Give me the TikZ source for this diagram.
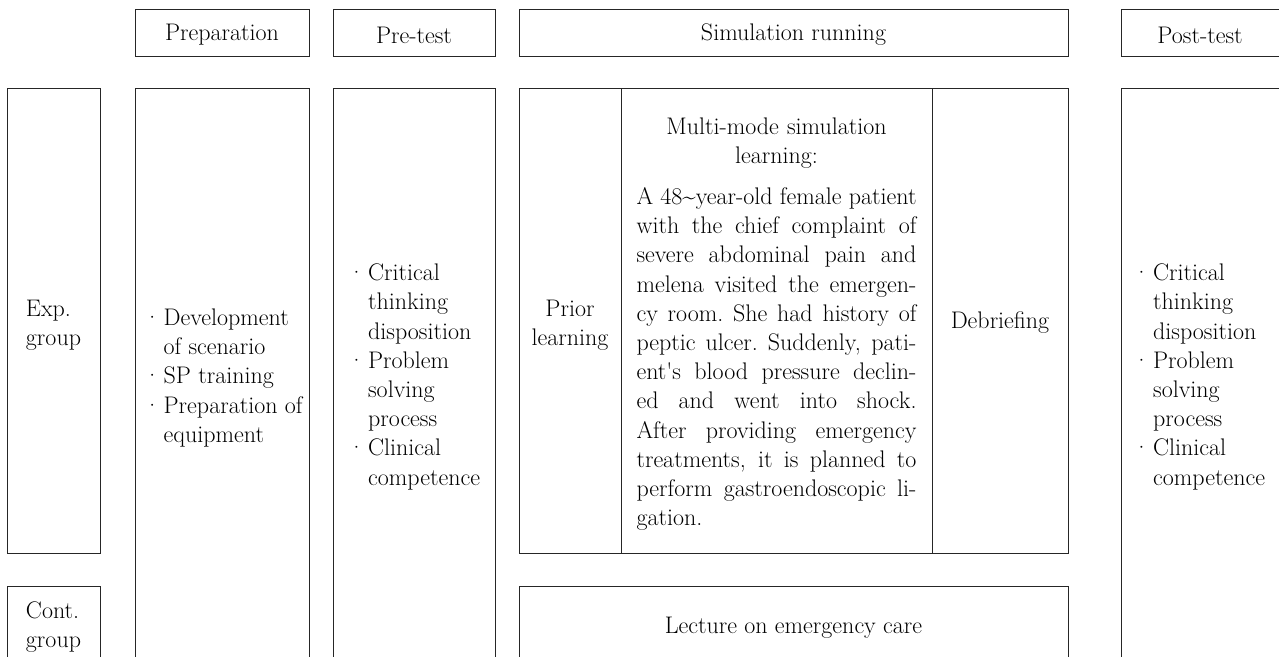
\documentclass[tikz,border=0pt]{standalone}
\usepackage{fontspec}
\usepackage{array}
\newcommand\blist[1]{\begin{tabular}{@{}l@{\hspace{0.12em}}l@{}}#1\end{tabular}}
\newcommand\jline[1]{\makebox[280pt][s]{\spaceskip=0.3em plus 4em minus 0.1em\xspaceskip=\spaceskip\relax #1}}
\begin{document}
\begin{tikzpicture}[x=1pt,y=-1pt,
  box/.style={draw=black!85, line width=1pt, inner sep=0pt, outer sep=0pt, anchor=north west},
  txt/.style={inner sep=0pt, outer sep=0pt, font=\fontsize{24}{29.2}\selectfont, align=center},
]
\useasboundingbox (0,0) rectangle (1279,656);
\clip (0,0) rectangle (1279,656);
% header boxes
\node[box, minimum width=174pt, minimum height=47pt] (hPrep) at (135,9) {};
\node[box, minimum width=162pt, minimum height=47pt] (hPre) at (333,9) {};
\node[box, minimum width=549pt, minimum height=47pt] (hSim) at (519,9) {};
\node[box, minimum width=161pt, minimum height=47pt] (hPost) at (1121,9) {};
\node[txt] (tPrep) at (222,35) {Preparation};
\node[txt] (tPre) at (414,35) {Pre-test};
\node[txt] (tSim) at (793.5,35) {Simulation running};
\node[txt] (tPost) at (1200,35) {Post-test};
% lower boxes
\node[box, minimum width=93pt, minimum height=465pt] (exp) at (7,88) {};
\node[box, minimum width=93pt, minimum height=110pt] (cont) at (7,586) {};
\node[box, minimum width=174pt, minimum height=600pt] (prep) at (135,88) {};
\node[box, minimum width=162pt, minimum height=600pt] (pre) at (333,88) {};
\node[box, minimum width=102pt, minimum height=465pt] (prior) at (519,88) {};
\node[box, minimum width=311pt, minimum height=465pt] (multi) at (621,88) {};
\node[box, minimum width=136pt, minimum height=465pt] (debr) at (932,88) {};
\node[box, minimum width=549pt, minimum height=110pt] (lect) at (519,586) {};
\node[box, minimum width=161pt, minimum height=600pt] (post) at (1121,88) {};
% texts
\node[txt, align=left] (tExp) at (53.5,325) {Exp.\\group};
\node[txt, align=left] (tCont) at (53.5,627) {Cont.\\group};
\node[txt] (tPrepL) at (223,378) {\blist{\textperiodcentered & Development\\ & of scenario\\ \textperiodcentered & SP training\\ \textperiodcentered & Preparation of\\ & equipment}};
\node[txt] (tPreL) at (414,377) {\blist{\textperiodcentered & Critical\\ & thinking\\ & disposition\\ \textperiodcentered & Problem\\ & solving\\ & process\\ \textperiodcentered & Clinical\\ & competence}};
\node[txt] (tPostL) at (1199,377) {\blist{\textperiodcentered & Critical\\ & thinking\\ & disposition\\ \textperiodcentered & Problem\\ & solving\\ & process\\ \textperiodcentered & Clinical\\ & competence}};
\node[txt] (tPrior) at (570,325) {Prior\\learning};
\node[txt] (tDebr) at (1000,323) {Debriefing};
\node[txt] (tLect) at (793.5,628) {Lecture on emergency care};
\node[txt, text width=280pt] (tMulti) at (776.5,324) {Multi-mode simulation\\learning:\\[12pt]
\jline{A 48\textasciitilde year-old female patient}\\
\jline{with the chief complaint of}\\
\jline{severe abdominal pain and}\\
\jline{melena visited the emergen-}\\
\jline{cy room. She had history of}\\
\jline{peptic ulcer. Suddenly, pati-}\\
\jline{ent\textquotesingle s blood pressure declin-}\\
\jline{ed and went into shock.}\\
\jline{After providing emergency}\\
\jline{treatments, it is planned to}\\
\jline{perform gastroendoscopic li-}\\
\makebox[280pt][l]{gation.}};
\end{tikzpicture}
\end{document}
